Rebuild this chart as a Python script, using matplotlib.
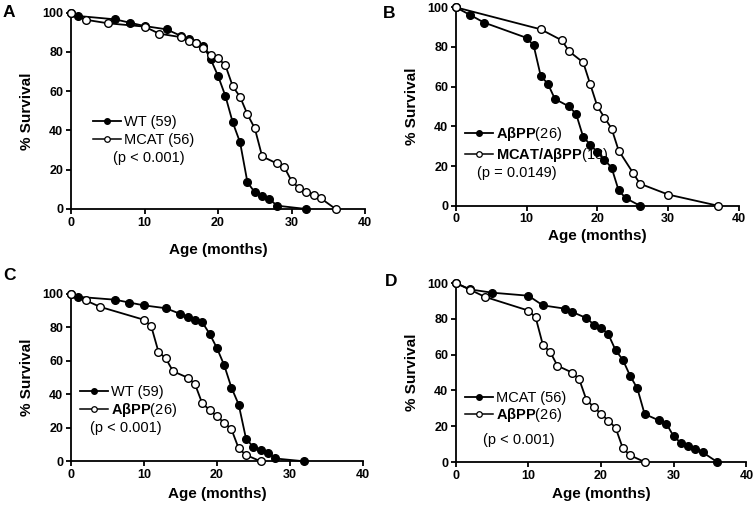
import matplotlib
matplotlib.use("Agg")
import matplotlib.pyplot as plt
from matplotlib.lines import Line2D
from matplotlib.legend_handler import HandlerLine2D

plt.rcParams['font.family'] = ['Liberation Sans', 'DejaVu Sans']
plt.rcParams['mathtext.fontset'] = 'custom'
plt.rcParams['mathtext.rm'] = 'Liberation Sans'
plt.rcParams['mathtext.bf'] = 'Liberation Sans:bold'

# ---- data (age in months, % survival) ----
wt_age = [0, 1, 6, 8, 10, 13, 15, 16, 17, 18, 19, 20, 21, 22, 23, 24, 25, 26, 27, 28, 32]
wt_surv = [100, 98.3, 96.6, 94.9, 93.2, 91.5, 88.1, 86.4, 84.7, 83.1, 76.3, 67.8, 57.6, 44.1,
           33.9, 13.6, 8.5, 6.8, 5.1, 1.7, 0]

mcat_a_age = [0, 2, 5, 10, 12, 15, 16, 17, 18, 19, 20, 21, 22, 23, 24, 25, 26, 28, 29, 30, 31, 32, 33, 34, 36]
mcat_a_surv = [100, 96.4, 94.6, 92.9, 89.3, 87.5, 85.7, 84.5, 82.1, 78.6, 76.8, 73.2, 62.5, 57.1,
               48.2, 41.1, 26.8, 23.2, 21.4, 14.3, 10.7, 8.9, 7.1, 5.4, 0]

mcat_d_age = [0, 2, 5, 10, 12, 15, 16, 18, 19, 20, 21, 22, 23, 24, 25, 26, 28, 29, 30, 31, 32, 33, 34, 36]
mcat_d_surv = [100, 96.4, 94.6, 92.9, 87.5, 85.7, 83.9, 80.4, 76.8, 75.0, 71.4, 62.5, 57.1, 48.2,
               41.1, 26.8, 23.2, 21.4, 14.3, 10.7, 8.9, 7.1, 5.4, 0]

app_age = [0, 2, 4, 10, 11, 12, 13, 14, 16, 17, 18, 19, 20, 21, 22, 23, 24, 26]
app_surv = [100, 96.2, 92.3, 84.6, 80.8, 65.4, 61.5, 53.8, 50.0, 46.2, 34.6, 30.8, 26.9, 23.1,
            19.2, 7.7, 3.8, 0]

mcat_app_age = [0, 12, 15, 16, 18, 19, 20, 21, 22, 23, 25, 26, 30, 37]
mcat_app_surv = [100, 88.9, 83.3, 77.8, 72.2, 61.1, 50.0, 44.4, 38.9, 27.8, 16.7, 11.1, 5.6, 0]

x_ticks = [0, 10, 20, 30, 40]
y_ticks = [0, 20, 40, 60, 80, 100]


class OffsetMarkerHandler(HandlerLine2D):
    """Legend handle with the marker placed right of centre."""
    def get_xdata(self, legend, xdescent, ydescent, width, height, fontsize):
        xdata = [-xdescent, -xdescent + width]
        return xdata, [-xdescent + 0.6 * width]


fig = plt.figure(figsize=(7.56, 5.09), dpi=100)

positions = {
    'A': [0.0939, 0.5894, 0.389, 0.3857],
    'B': [0.6028, 0.5959, 0.3748, 0.3898],
    'C': [0.0939, 0.0937, 0.3858, 0.3287],
    'D': [0.6028, 0.0923, 0.3844, 0.3517],
}

APP = r'$\mathbf{A\beta PP}$(26)'
panels = {
    'A': dict(filled=(wt_age, wt_surv, 'WT (59)'),
              open_=(mcat_a_age, mcat_a_surv, 'MCAT (56)'),
              p='(p < 0.001)', leg=(0.076, 0.398), ptxt=(0.143, 0.258), xpad=10, ls=0.25),
    'B': dict(filled=(app_age, app_surv, APP),
              open_=(mcat_app_age, mcat_app_surv, r'$\mathbf{MCAT/A\beta PP}$(18)'),
              p='(p = 0.0149)', leg=(0.033, 0.308), ptxt=(0.074, 0.163), xpad=3, ls=0.25),
    'C': dict(filled=(wt_age, wt_surv, 'WT (59)'),
              open_=(app_age, app_surv, APP),
              p='(p < 0.001)', leg=(0.031, 0.356), ptxt=(0.065, 0.197), xpad=4, ls=0.12),
    'D': dict(filled=(mcat_d_age, mcat_d_surv, 'MCAT (56)'),
              open_=(app_age, app_surv, APP),
              p='(p < 0.001)', leg=(0.032, 0.3045), ptxt=(0.095, 0.123), xpad=3.5, ls=0.05),
}

letter_pos = {'A': (0.004, 0.9745), 'B': (0.507, 0.9725), 'C': (0.004, 0.4597), 'D': (0.509, 0.447)}

for key, pos in positions.items():
    ax = fig.add_axes(pos)
    d = panels[key]
    fx, fy, flab = d['filled']
    ox, oy, olab = d['open_']
    ax.plot(fx, fy, '-o', color='black', lw=1.3, ms=5.5, mfc='black', mec='black', clip_on=False, zorder=3)
    ax.plot(ox, oy, '-o', color='black', lw=1.3, ms=5.5, mfc='white', mec='black', mew=1.0, clip_on=False, zorder=3)
    ax.set_xlim(0, 40)
    ax.set_ylim(0, 100)
    ax.set_xticks(x_ticks)
    ax.set_yticks(y_ticks)
    for s in ['top', 'right']:
        ax.spines[s].set_visible(False)
    for s in ['left', 'bottom']:
        ax.spines[s].set_linewidth(1.3)
    ax.tick_params(length=3.5, width=1.3, labelsize=9, pad=2)
    for lab in ax.get_xticklabels() + ax.get_yticklabels():
        lab.set_fontweight('bold')
    ax.set_xlabel('Age (months)', fontsize=11, fontweight='bold', labelpad=d['xpad'])
    ax.set_ylabel('% Survival', fontsize=11, fontweight='bold', labelpad=6)

    handles = [Line2D([], [], color='black', lw=1.3, marker='o', ms=4, mfc='black', mec='black'),
               Line2D([], [], color='black', lw=1.1, marker='o', ms=4, mfc='white', mec='black', mew=0.9)]
    ax.legend(handles, [flab, olab], loc='center left', bbox_to_anchor=d['leg'],
              frameon=False, fontsize=10.5, handlelength=1.9, handletextpad=0.2,
              borderpad=0, borderaxespad=0, labelspacing=d['ls'], numpoints=1,
              handler_map={Line2D: OffsetMarkerHandler()})
    ax.text(d['ptxt'][0], d['ptxt'][1], d['p'], transform=ax.transAxes, fontsize=10.5,
            ha='left', va='center')
    fig.text(letter_pos[key][0], letter_pos[key][1], key, fontsize=12.5, fontweight='bold',
             ha='left', va='center')

fig.savefig('out.png', dpi=100)
